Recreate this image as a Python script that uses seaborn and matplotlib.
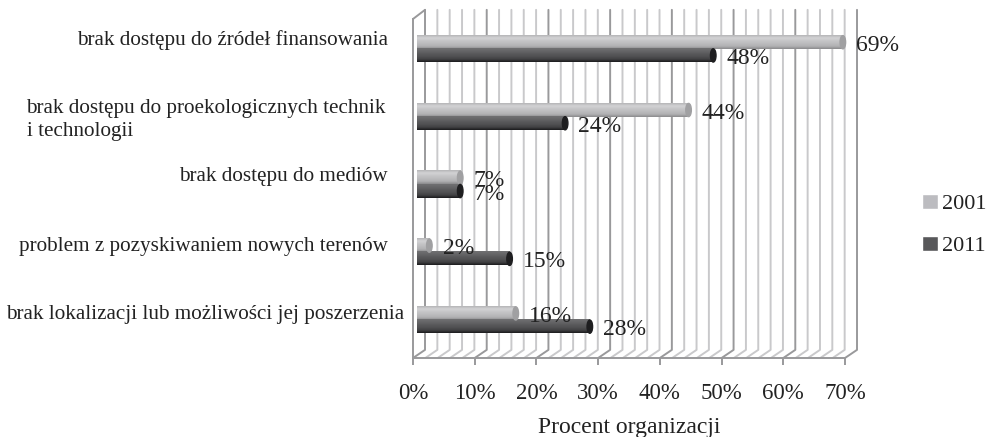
import numpy as np
import pandas as pd
import seaborn as sns
import matplotlib
matplotlib.use("Agg")
import matplotlib.pyplot as plt
from matplotlib.colors import LinearSegmentedColormap
from matplotlib.patches import Ellipse

categories = [
    "brak dostępu do źródeł finansowania",
    "brak dostępu do proekologicznych technik\ni technologii",
    "brak dostępu do mediów",
    "problem z pozyskiwaniem nowych terenów",
    "brak lokalizacji lub możliwości jej poszerzenia",
]
values_2001 = [69, 44, 7, 2, 16]
values_2011 = [48, 24, 7, 15, 28]
x_ticks = [0, 10, 20, 30, 40, 50, 60, 70]

W, H = 988, 437
sns.set_theme(style="white")
plt.rcParams["font.family"] = ["Liberation Serif", "DejaVu Serif"]

df = pd.DataFrame({
    "kategoria": categories * 2,
    "procent": values_2001 + values_2011,
    "rok": ["2001"] * 5 + ["2011"] * 5,
})

fig = plt.figure(figsize=(W / 100, H / 100), dpi=100)
rect = [413 / W, 1 - 358 / H, 432 / W, 339 / H]
ax_bg = fig.add_axes(rect)
ax = fig.add_axes(rect)
ax.patch.set_alpha(0)

# sciana tylna i siatka
LIGHT, DARK = "#c9c9cb", "#99999b"
dx, top, back = 1.945, 1.027, 0.024
for k in range(0, 72, 2):
    major = k % 10 == 0
    ax_bg.plot([k + dx, k + dx, k], [top, back, 0], color=DARK if major else LIGHT,
               lw=1.4, clip_on=False, zorder=2 if major else 1, solid_joinstyle="round")
ax_bg.plot([0, dx], [1, top], color=DARK, lw=1.4, clip_on=False)
ax_bg.set_xlim(0, 70)
ax_bg.set_ylim(0, 1)
ax_bg.set_yticks([])
ax_bg.set_xticks(x_ticks)
ax_bg.set_xticklabels([f"{t}%" for t in x_ticks], fontsize=16.5, color="#222222")
ax_bg.tick_params(axis="x", bottom=True, length=5, width=1.4, color=DARK, pad=13)
ax_bg.set_xlabel("Procent organizacji", fontsize=17, color="#222222", labelpad=9)
sns.despine(ax=ax_bg)
for side in ["left", "bottom"]:
    ax_bg.spines[side].set_color(DARK)
    ax_bg.spines[side].set_linewidth(1.4)

# slupki
sns.barplot(data=df, y="kategoria", x="procent", hue="rok", orient="y", width=0.39,
            palette=["#bcbcc0", "#58585a"], saturation=1, ax=ax)

shades = [
    LinearSegmentedColormap.from_list("jasny", ["#b6b6b8", "#d2d2d4", "#c6c6c8", "#bcbcbe", "#b2b2b4", "#8c8c8e"]),
    LinearSegmentedColormap.from_list("ciemny", ["#707072", "#666668", "#5a5a5c", "#505052", "#424244", "#1c1c1e"]),
]
ends = ["#a0a0a2", "#1e1e20"]
grad = np.linspace(0, 1, 32).reshape(-1, 1)
for s, container in enumerate(ax.containers):
    for bar in container:
        y0, h, v = bar.get_y(), bar.get_height(), bar.get_width()
        bar.set_visible(False)
        ax.imshow(grad, cmap=shades[s], aspect="auto", extent=[0, v, y0 + h, y0],
                  interpolation="bilinear", zorder=3)
        ax.add_patch(Ellipse((v, y0 + h / 2), 0.9, h, color=ends[s], zorder=4, clip_on=False))
        ax.annotate(f"{v:.0f}%", (v, y0 + h / 2), xytext=(9.5, -2.2), textcoords="offset points",
                    fontsize=17, color="#222222", va="center", ha="left", zorder=6,
                    annotation_clip=False)
ax.set_xlim(-0.65, 69.35)
ax.set_ylim(4.56, -0.44)
ax.axis("off")

# etykiety kategorii
label_right = [388, 386, 388, 388, 404]
label_y = [40, 120, 177, 247, 314]
for name, xr, yc in zip(categories, label_right, label_y):
    fig.text(xr / W, 1 - yc / H, name, ha="right", va="center", ma="left",
             fontsize=15.2, color="#222222", linespacing=1.35)

handles, labels = ax.get_legend_handles_labels()
ax.get_legend().remove()
leg = fig.legend(handles, labels, loc="center left", bbox_to_anchor=(922 / W, 1 - 225 / H),
                 frameon=False, fontsize=16, labelspacing=0.95, handlelength=0.7,
                 handleheight=0.7, handletextpad=0.2, borderpad=0, borderaxespad=0)
for t in leg.get_texts():
    t.set_color("#222222")

fig.savefig("out.png", dpi=100)
